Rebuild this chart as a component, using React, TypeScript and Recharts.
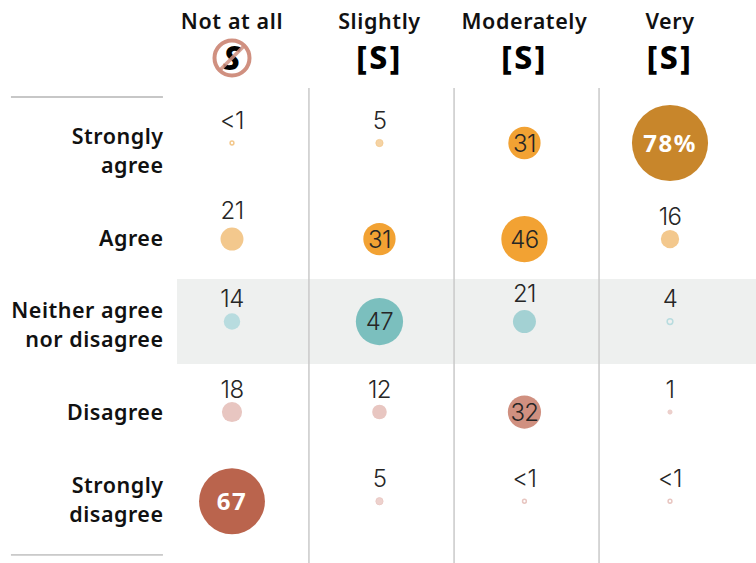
import React from "react";
import { ScatterChart, Scatter, XAxis, YAxis, ReferenceArea, ReferenceLine } from "recharts";

const columns = ["Not at all", "Slightly", "Moderately", "Very"];
const rows = [["Strongly", "agree"], ["Agree"], ["Neither agree", "nor disagree"], ["Disagree"], ["Strongly", "disagree"]];
const stronglyAgree = ["<1", "5", "31", "78%"];
const agree = ["21", "31", "46", "16"];
const neither = ["14", "47", "21", "4"];
const disagree = ["18", "12", "32", "1"];
const stronglyDisagree = ["67", "5", "<1", "<1"];
const rowValues = [stronglyAgree, agree, neither, disagree, stronglyDisagree];

// layout, in axis units
const COL_SLOTS = [0, 1.01, 2.003, 3];
const ROW_SLOTS = [0, 1.073, 1.995, 3.006, 4.003];
const LABEL_NUDGE = [8, -1, 3.5, 0, -1.5];
const FONT = "'Noto Sans', sans-serif";
const NUM_FONT = "Inter, sans-serif";
const INK = "#262626";

const amount = (s: string) => (s === "<1" ? 0.5 : parseFloat(s));
const radius = (v: number) => (v < 1 ? 2.6 : v === 1 ? 2.5 : 1.7 + 0.466 * v);

const tone = (row: number, v: number) => {
  if (row === 2) return v >= 40 ? "#7BBFBE" : v >= 20 ? "#A3D1D3" : "#B8DCDF";
  if (row < 2) return v >= 70 ? "#C8862B" : v >= 25 ? "#F2A233" : "#F3C88D";
  return v >= 60 ? "#BA644D" : v >= 25 ? "#D09080" : "#E8C6C1";
};

const table = rowValues.flatMap((vals, r) =>
  vals.map((label, c) => ({ col: COL_SLOTS[c], row: ROW_SLOTS[r], r, label, value: amount(label) }))
);

const Bubble = (p: any) => {
  const { cx, cy, payload } = p;
  const { value, label, r } = payload;
  const rad = radius(value);
  const hollow = value < 1 || value === 4;
  const tiny = value === 5 || value === 1;
  const color = tone(r, value);
  const inside = value >= 31;
  const strong = value >= 60;
  const labelY = inside ? cy : cy - (rad >= 11 ? 28.5 : 23);
  return (
    <g>
      <circle
        cx={cx}
        cy={cy}
        r={hollow ? rad - 0.7 : tiny ? rad - 0.4 : rad}
        fill={hollow ? "none" : color}
        fillOpacity={tiny ? 0.8 : 1}
        stroke={hollow || tiny ? color : "none"}
        strokeWidth={hollow ? 1.5 : tiny ? 0.8 : 0}
      />
      <text
        x={cx}
        y={labelY}
        dy="0.36em"
        textAnchor="middle"
        fontFamily={strong ? FONT : NUM_FONT}
        fontWeight={strong ? 700 : 300}
        fontSize={strong ? 24 : 24}
        fill={strong ? "#fff" : INK}
        letterSpacing={strong ? 1.5 : -0.6}
      >
        {label}
      </text>
    </g>
  );
};

const ColumnTick = (p: any) => {
  const { x, index } = p;
  return (
    <g>
      <text x={x} y={29} textAnchor="middle" fontFamily={FONT} fontWeight={600} fontSize={21.5} fill="#111" letterSpacing={0.6}>
        {columns[index]}
      </text>
      {index === 0 ? (
        <g>
          <circle cx={x} cy={58} r={17.5} fill="none" stroke="#D09080" strokeWidth={4} />
          <text x={x} y={70} textAnchor="middle" fontFamily={FONT} fontWeight={800} fontStyle="italic" fontSize={33} fill="#000">
            S
          </text>
          <line x1={x - 12} y1={70} x2={x + 12} y2={46} stroke="#D09080" strokeWidth={3.5} strokeOpacity={0.85} />
        </g>
      ) : (
        <text x={x} y={69} textAnchor="middle" fontFamily={FONT} fontWeight={800} fontSize={32} fill="#000" letterSpacing={2.5}>
          [S]
        </text>
      )}
    </g>
  );
};

const RowTick = (p: any) => {
  const { y, index } = p;
  const lines = rows[index];
  const start = y + LABEL_NUDGE[index] - ((lines.length - 1) * 29) / 2;
  return (
    <g>
      {lines.map((t: string, i: number) => (
        <text key={t} x={163.5} y={start + i * 29} dy="0.36em" textAnchor="end" fontFamily={FONT} fontWeight={600} fontSize={21.5} fill="#111" letterSpacing={0.5}>
          {t}
        </text>
      ))}
    </g>
  );
};

const dividers = [0.527, 1.521, 2.514];

export default function App() {
  return (
    <div style={{ position: "absolute", left: 0, top: 0, width: 756, height: 563 }}>
      <ScatterChart width={756} height={563} margin={{ top: -1, right: 0, bottom: 0, left: -1 }}>
        <XAxis
          type="number"
          dataKey="col"
          orientation="top"
          domain={[-1.589, 3.589]}
          ticks={COL_SLOTS}
          interval={0}
          height={1}
          axisLine={false}
          tickLine={false}
          tick={ColumnTick}
          allowDataOverflow
        />
        <YAxis
          type="number"
          dataKey="row"
          reversed
          domain={[-1.598, 4.693]}
          ticks={ROW_SLOTS}
          interval={0}
          width={1}
          axisLine={false}
          tickLine={false}
          tick={RowTick}
          allowDataOverflow
        />
        <ReferenceArea x1={-0.377} x2={3.589} y1={1.52} y2={2.47} fill="#EEF0EF" fillOpacity={1} stroke="none" />
        {dividers.map((x) => (
          <ReferenceLine
            key={x}
            segment={[{ x, y: -0.615 }, { x, y: 4.693 }]}
            stroke="#C9C9C9"
            strokeWidth={1.5}
          />
        ))}
        <ReferenceLine segment={[{ x: -1.514, y: -0.514 }, { x: -0.473, y: -0.514 }]} stroke="#8f8f8f" strokeWidth={1} />
        <ReferenceLine segment={[{ x: -1.514, y: 4.603 }, { x: -0.473, y: 4.603 }]} stroke="#a0a0a0" strokeWidth={1} />
        <Scatter data={table} isAnimationActive={false} shape={Bubble} />
      </ScatterChart>
    </div>
  );
}
